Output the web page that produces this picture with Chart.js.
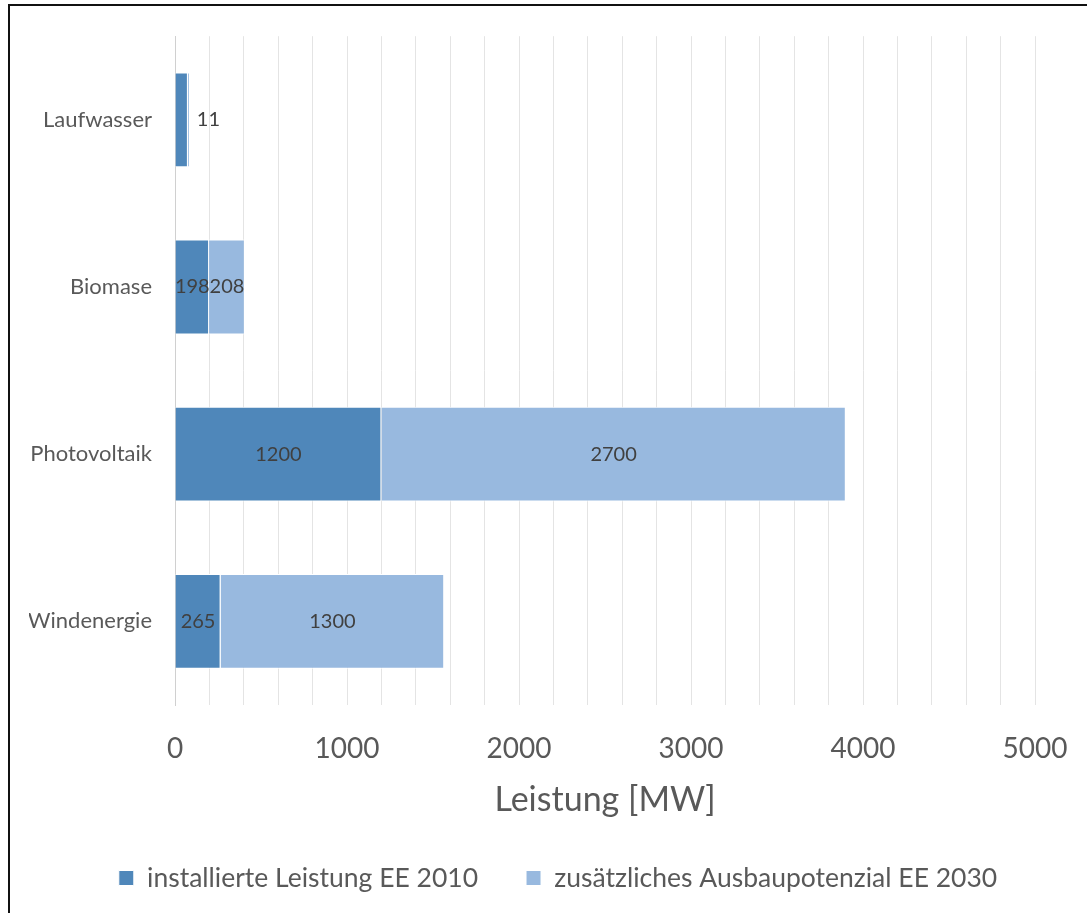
<!DOCTYPE html>
<html><head><meta charset="utf-8">
<script src="https://cdn.jsdelivr.net/npm/chart.js@4/dist/chart.umd.min.js"></script>
<style>
html,body{margin:0;padding:0;background:#fff;}
#wrap{position:relative;width:1087px;height:913px;overflow:hidden;}
#frame{position:absolute;left:8px;top:4px;width:1200px;height:1000px;border-left:2px solid #111;border-top:2px solid #111;}
canvas{position:absolute;left:0;top:0;}
</style></head><body>
<div id="wrap"><div id="frame"></div><canvas id="c" width="1087" height="913"></canvas></div>
<script>
const categories = ['Laufwasser', 'Biomase', 'Photovoltaik', 'Windenergie'];
const seriesNames = ['installierte Leistung EE 2010', 'zusätzliches Ausbaupotenzial EE 2030'];
const installed2010 = [75, 198, 1200, 265];
const potential2030 = [11, 208, 2700, 1300];
const installedLabelShown = [false, true, true, true];
const xTickLabels = [0, 1000, 2000, 3000, 4000, 5000];
const xAxisTitle = 'Leistung [MW]';

const FONT = 'Lato';

const valueLabels = {
  id: 'valueLabels',
  afterInit(chart) {
    const lg = chart.legend;
    if (lg) {
      const orig = lg.fit.bind(lg);
      lg.fit = function () { orig(); this.height = 96.25; };
    }
  },
  afterDatasetsDraw(chart) {
    const ctx = chart.ctx;
    ctx.save();
    ctx.font = '20px ' + FONT;
    ctx.fillStyle = '#404040';
    ctx.textBaseline = 'middle';
    chart.data.datasets.forEach((ds, di) => {
      const meta = chart.getDatasetMeta(di);
      meta.data.forEach((bar, i) => {
        if (di === 0 && !installedLabelShown[i]) return;
        const v = ds.data[i];
        const left = Math.min(bar.x, bar.base), right = Math.max(bar.x, bar.base);
        const w = right - left;
        const txt = String(v);
        if (w < 8) {
          ctx.textAlign = 'left';
          ctx.fillText(txt, right + 7, bar.y);
        } else {
          ctx.textAlign = 'center';
          ctx.fillText(txt, (left + right) / 2, bar.y);
        }
      });
    });
    ctx.restore();
  }
};

function draw() {
  new Chart(document.getElementById('c'), {
    type: 'bar',
    data: {
      labels: categories,
      datasets: [
        { label: seriesNames[0], data: installed2010, backgroundColor: '#4F87BA', borderColor: '#ffffff', borderWidth: 1,
          barPercentage: 1, categoryPercentage: 0.567 },
        { label: seriesNames[1], data: potential2030, backgroundColor: '#98B9DF', borderColor: '#ffffff', borderWidth: 1,
          barPercentage: 1, categoryPercentage: 0.567 }
      ]
    },
    options: {
      indexAxis: 'y',
      responsive: false,
      animation: false,
      devicePixelRatio: 1,
      layout: { padding: { left: 29, right: 0, top: 34, bottom: 0 } },
      scales: {
        x: {
          stacked: true, min: 0, max: 5000,
          afterFit(scale) { scale.height = 111.75; scale.paddingLeft = 0; scale.paddingRight = 0; },
          grid: { color: '#e4e4e4', lineWidth: 1, drawTicks: false },
          border: { display: false },
          ticks: {
            stepSize: 200, autoSkip: false, maxRotation: 0, padding: 27,
            color: '#595959', font: { family: FONT, size: 28 },
            callback: (v) => xTickLabels.includes(v) ? String(v) : ''
          },
          title: { display: true, text: xAxisTitle, color: '#595959',
            font: { family: FONT, size: 34, lineHeight: 1 }, padding: { top: 0, bottom: 0 } }
        },
        y: {
          stacked: true,
          afterFit(scale) { scale.width = 146; },
          grid: { display: false, drawTicks: false },
          border: { display: true, color: '#d0d0d0', width: 1 },
          ticks: { color: '#595959', font: { family: FONT, size: 22 }, padding: 23 }
        },
        yRightSpace: {
          type: 'category', position: 'right', display: true,
          afterFit(scale) { scale.width = 52; },
          grid: { display: false, drawTicks: false },
          border: { display: false },
          ticks: { display: false }
        }
      },
      plugins: {
        tooltip: { enabled: false },
        legend: {
          position: 'bottom',
          labels: {
            color: '#595959', font: { family: FONT, size: 26.5 },
            boxWidth: 15, boxHeight: 15, padding: 48
          }
        }
      }
    },
    plugins: [valueLabels]
  });
}

Promise.all([
  document.fonts.load('20px ' + FONT), document.fonts.load('22px ' + FONT),
  document.fonts.load('26.5px ' + FONT), document.fonts.load('28px ' + FONT),
  document.fonts.load('34px ' + FONT)
]).then(draw, draw);
</script>
</body></html>
